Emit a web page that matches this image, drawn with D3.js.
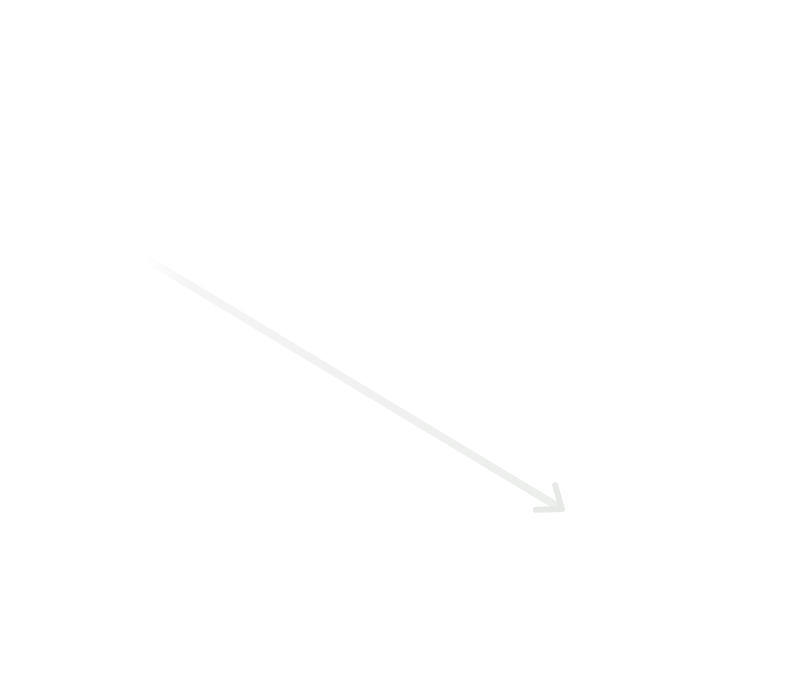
<!DOCTYPE html>
<html>
<head>
<meta charset="utf-8">
<script src="https://cdn.jsdelivr.net/npm/d3@7"></script>
<style>
  html, body { margin: 0; padding: 0; background: #ffffff; }
</style>
</head>
<body>
<svg id="chart"></svg>
<script>
// trend arrow, in chart units (0-100 on both axes)
const trendX = [12.2, 71.8];
const trendY = [62.5, 19.4];

var margin = { top: 40, right: 40, bottom: 60, left: 60 },
	width = 799 - margin.left - margin.right,
	height = 682 - margin.top - margin.bottom;

const svg = d3.select("#chart")
	.attr("width", width + margin.left + margin.right)
	.attr("height", height + margin.top + margin.bottom)
	.append("g")
	.attr("transform", `translate(${margin.left}, ${margin.top})`);

var x = d3.scaleLinear().domain([0, 100]).range([0, width]);
var y = d3.scaleLinear().domain([0, 100]).range([height, 0]);

const pts = trendX.map((d, i) => [x(d), y(trendY[i])]);

const defs = svg.append("defs");

// line fades in from nothing at its start
const grad = defs.append("linearGradient")
	.attr("id", "fade")
	.attr("gradientUnits", "userSpaceOnUse")
	.attr("x1", pts[0][0]).attr("y1", pts[0][1])
	.attr("x2", pts[1][0]).attr("y2", pts[1][1]);
grad.append("stop").attr("offset", 0).attr("stop-color", "#eef0ee").attr("stop-opacity", 0);
grad.append("stop").attr("offset", 0.12).attr("stop-color", "#f2f3f2").attr("stop-opacity", 0.9);
grad.append("stop").attr("offset", 1).attr("stop-color", "#eceeec").attr("stop-opacity", 1);

defs.append("marker")
	.attr("id", "head")
	.attr("markerUnits", "userSpaceOnUse")
	.attr("viewBox", "-30 -25 40 50")
	.attr("markerWidth", 40)
	.attr("markerHeight", 50)
	.attr("refX", 0)
	.attr("refY", 0)
	.attr("orient", "auto")
	.append("path")
	.attr("d", "M-18,-17L0,0L-22,14")
	.attr("fill", "none")
	.attr("stroke", "#e7e9e7")
	.attr("stroke-width", 6)
	.attr("stroke-linecap", "round")
	.attr("stroke-linejoin", "round");

svg.append("path")
	.datum(pts)
	.attr("d", d3.line())
	.attr("fill", "none")
	.attr("stroke", "url(#fade)")
	.attr("stroke-width", 8)
	.attr("marker-end", "url(#head)");
</script>
</body>
</html>
